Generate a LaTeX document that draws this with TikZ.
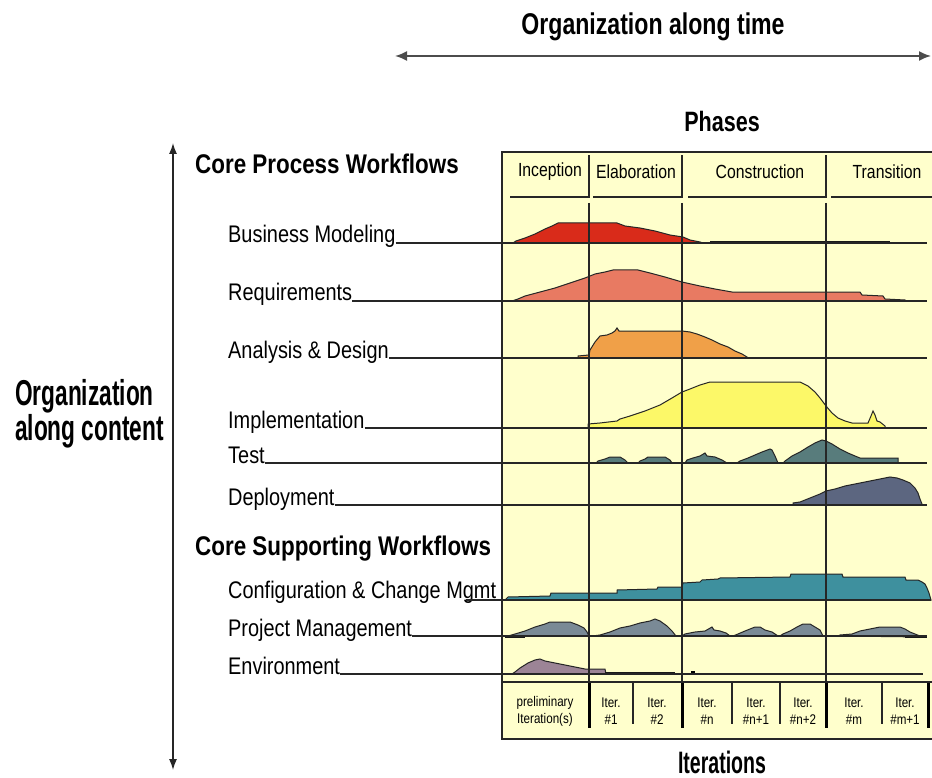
\documentclass[tikz,border=0pt]{standalone}
\usepackage{fontspec}
\setmainfont[FakeStretch=0.83]{Liberation Sans}
\newfontfamily\titlefont[FakeStretch=0.77]{Liberation Sans}
\newfontfamily\tallfont[FakeStretch=0.63]{Liberation Sans}
\usepackage{tikz}
\usetikzlibrary{arrows.meta,positioning,calc}
\definecolor{chartbg}{RGB}{255,255,204}
\definecolor{bmred}{RGB}{217,43,26}
\definecolor{reqsalmon}{RGB}{232,122,98}
\definecolor{adorange}{RGB}{240,160,72}
\definecolor{implyellow}{RGB}{252,248,104}
\definecolor{testslate}{RGB}{88,124,124}
\definecolor{depslate}{RGB}{92,102,128}
\definecolor{cfgteal}{RGB}{62,144,158}
\definecolor{pmgray}{RGB}{122,138,150}
\definecolor{envmauve}{RGB}{156,132,150}
\tikzset{
    flow/.style = {anchor=base west, inner sep=0pt, font=\fontsize{24}{26}\selectfont},
    heading/.style = {anchor=base west, inner sep=0pt, font=\fontsize{27}{30}\selectfont\bfseries},
    bigtitle/.style = {anchor=base, inner sep=0pt, font=\titlefont\fontsize{30}{32}\selectfont\bfseries},
    phase/.style = {inner sep=0pt, font=\fontsize{19}{21}\selectfont},
    iter/.style = {inner sep=0pt, align=center, font=\fontsize{14}{17}\selectfont},
    hump/.style = {draw=black!85, line width=1pt},
    gridline/.style = {line width=1.3pt, black!85},
    baseline/.style = {line width=1.1pt, black!85},
    heavy/.style = {line width=2.6pt, black!90},
    axis/.style = {line width=1.8pt, black!70, {Latex[length=12pt,width=10pt]}-{Latex[length=12pt,width=10pt]}},
}

\begin{document}
\begin{tikzpicture}[x=1pt,y=-1pt]
    \useasboundingbox (0,0) rectangle (932,778);
    % chart area
    \fill[chartbg] (502,152) rectangle (932,739);

    % axes and titles
    \coordinate (timeL) at (395,56);
    \coordinate (timeR) at (931,56);
    \draw[axis] (timeL) -- (timeR);
    \node[bigtitle] (timetitle) at (653,35) {Organization along time};
    \coordinate (contT) at (173,143);
    \coordinate (contB) at (173,770);
    \draw[axis, line width=1.3pt, black!85, {Latex[length=11pt,width=8pt]}-{Latex[length=11pt,width=8pt]}] (contT) -- (contB);
    \node[anchor=base west, inner sep=0pt, font=\tallfont\fontsize{36}{36}\selectfont\bfseries] (orgA) at (15,405) {Organization};
    \node[anchor=base west, inner sep=0pt, font=\tallfont\fontsize{36}{36}\selectfont\bfseries] (orgB) at (15,440) {along content};
    \node[bigtitle, font=\titlefont\fontsize{28}{30}\selectfont\bfseries] (phases) at (722,132) {Phases};
    \node[bigtitle, font=\tallfont\fontsize{31}{33}\selectfont\bfseries] (iterations) at (722,773) {Iterations};

    % phase header
    \node[phase] (incep) at (550,172) {Inception};
    \node[phase] (elab) at (636,172) {Elaboration};
    \node[phase] (constr) at (760,172) {Construction};
    \node[phase] (trans) at (887,172) {Transition};
    \draw[gridline] (510,197) -- (589,197) -- (589,155);
    \draw[gridline] (593,197) -- (682,197) -- (682,155);
    \draw[gridline] (688,197) -- (826,197) -- (826,155);
    \draw[gridline] (831,197) -- (932,197);

    % Core process humps
    \filldraw[hump, fill=bmred] plot coordinates {(513,243) (516,241) (525,238) (535,234) (545,229) (552,226) (558,223) (617,223) (625,226) (640,228) (655,231) (670,235) (683,237) (690,240) (700,242) (703,243)} -- cycle;
    \draw[heavy] (710,242.5) -- (890,242.5);
    \filldraw[hump, fill=reqsalmon] plot coordinates {(512,301) (518,299) (525,296) (540,292) (555,288) (570,283) (585,278) (595,274) (605,272) (613,270) (638,270) (650,273) (665,277) (682,282) (700,286) (715,289) (732,292) (860,292) (862,295) (883,296) (885,299) (905,300) (905,301)} -- cycle;
    \draw[heavy] (905,301) -- (927,301);
    \draw[heavy] (563,358) -- (578,358);
    \filldraw[hump, fill=adorange] plot coordinates {(578,358) (578,356) (589,355) (590,350) (595,342) (600,336) (607,335) (612,333) (615,331) (617,328) (619,331) (682,331) (690,332) (697,334) (705,337) (712,340) (720,344) (728,347) (735,351) (742,354) (747,357) (747,358)} -- cycle;
    \draw[heavy] (747,358) -- (907,358);
    \draw[heavy] (559,428) -- (588,428);
    \filldraw[hump, fill=implyellow] plot coordinates {(588,428) (588,424) (600,423) (617,421) (620,419) (630,416) (645,411) (660,405) (672,398) (682,392) (690,389) (700,385) (710,382) (800,382) (808,386) (815,392) (820,398) (826,406) (832,413) (838,418) (845,421) (852,423) (868,423) (871,416) (873,411) (875,415) (877,421) (880,422) (885,426) (885,428)} -- cycle;
    \draw[heavy] (885,428) -- (910,428);
    \filldraw[hump, fill=testslate] plot coordinates {(596,463) (598,461) (605,459) (610,457) (620,457) (625,460) (628,463)} -- cycle;
    \filldraw[hump, fill=testslate] plot coordinates {(638,463) (640,461) (645,459) (648,457) (665,457) (670,460) (672,463)} -- cycle;
    \filldraw[hump, fill=testslate] plot coordinates {(685,463) (687,460) (693,458) (700,456) (705,453) (707,456) (715,457) (722,460) (727,463)} -- cycle;
    \filldraw[hump, fill=testslate] plot coordinates {(737,463) (740,461) (748,458) (755,455) (762,452) (770,449) (772,450) (775,456) (778,463)} -- cycle;
    \filldraw[hump, fill=testslate] plot coordinates {(783,463) (785,461) (792,456) (800,452) (808,447) (815,443) (822,440) (826,441) (832,444) (840,449) (848,453) (855,456) (860,458) (898,458) (898,463)} -- cycle;
    \draw[heavy] (592,463) -- (600,463);
    \draw[heavy] (898,463) -- (918,463);
    \draw[heavy] (778,505) -- (793,505);
    \filldraw[hump, fill=depslate] plot coordinates {(793,505) (793,503) (800,502) (810,498) (820,494) (826,491) (835,489) (845,486) (855,484) (865,482) (875,480) (885,478) (890,477) (897,478) (903,480) (910,483) (915,488) (918,493) (920,499) (922,504) (922,505)} -- cycle;

    % Core supporting humps
    \filldraw[hump, fill=cfgteal] plot coordinates {(505,600) (508,597) (550,596) (551,593) (617,593) (617,590) (657,589) (658,587) (682,587) (683,583) (700,582) (702,580) (718,579) (720,578) (790,577) (791,574) (842,574) (843,577) (905,577) (906,580) (918,580) (922,582) (925,584) (927,588) (929,593) (931,600)} -- cycle;
    \filldraw[hump, fill=pmgray] plot coordinates {(508,636) (515,634) (525,631) (535,627) (545,624) (550,622) (570,622) (578,625) (584,628) (587,632) (589,636)} -- cycle;
    \filldraw[hump, fill=pmgray] plot coordinates {(592,636) (600,635) (610,632) (620,628) (630,626) (640,623) (650,621) (655,619) (660,621) (667,626) (672,631) (676,636)} -- cycle;
    \filldraw[hump, fill=pmgray] plot coordinates {(682,636) (685,634) (695,632) (705,631) (712,627) (714,630) (720,631) (726,633) (730,636)} -- cycle;
    \filldraw[hump, fill=pmgray] plot coordinates {(733,636) (738,634) (745,631) (750,629) (755,627) (760,627) (765,630) (772,632) (778,636)} -- cycle;
    \filldraw[hump, fill=pmgray] plot coordinates {(780,636) (783,634) (790,631) (797,627) (803,624) (810,624) (815,627) (820,630) (823,636)} -- cycle;
    \filldraw[hump, fill=pmgray] plot coordinates {(838,636) (840,635) (852,634) (860,631) (870,629) (880,627) (900,627) (905,629) (910,632) (915,634) (920,636) (925,637)} -- cycle;
    \draw[heavy] (505,636.5) -- (525,636.5);
    \draw[heavy] (905,637) -- (927,637);
    \filldraw[hump, fill=envmauve] plot coordinates {(512,674) (515,672) (520,668) (528,663) (535,660) (540,659) (545,661) (555,663) (565,665) (575,667) (585,669) (605,669) (606,674)} -- cycle;
    \draw[heavy] (605,673) -- (675,673);
    \fill[black] (691,671) rectangle (695,675);

    % workflow labels
    \node[heading] (coreproc) at (195,174) {Core Process Workflows};
    \node[flow] (bm) at (228,243) {Business Modeling};
    \node[flow] (req) at (228,301) {Requirements};
    \node[flow] (ad) at (228,358) {Analysis \& Design};
    \node[flow] (impl) at (228,428) {Implementation};
    \node[flow] (test) at (228,463) {Test};
    \node[flow] (dep) at (228,505) {Deployment};
    \node[heading] (coresupp) at (195,555) {Core Supporting Workflows};
    \node[flow] (cfg) at (228,598) {Configuration \& Change Mgmt};
    \node[flow] (pm) at (228,636) {Project Management};
    \node[flow] (env) at (228,674) {Environment};
    \coordinate (bmEnd) at (927,243);
    \coordinate (reqEnd) at (927,301);
    \coordinate (adEnd) at (927,358);
    \coordinate (implEnd) at (927,428);
    \coordinate (testEnd) at (927,463);
    \coordinate (depEnd) at (927,505);
    \coordinate (cfgEnd) at (931,600);
    \coordinate (pmEnd) at (927,636);
    \coordinate (envEnd) at (923,674);
    \draw[baseline] (bm.base east) -- (bmEnd);
    \draw[baseline] (req.base east) -- (reqEnd);
    \draw[baseline] (ad.base east) -- (adEnd);
    \draw[baseline] (impl.base east) -- (implEnd);
    \draw[baseline] (test.base east) -- (testEnd);
    \draw[baseline] (dep.base east) -- (depEnd);
    \draw[baseline] ($(cfg.base east)+(-30,2)$) -- (cfgEnd);
    \draw[baseline] (pm.base east) -- (pmEnd);
    \draw[baseline] (env.base east) -- (envEnd);

    % phase boundaries
    \draw[gridline] (589,203) -- (589,682);
    \draw[gridline] (682,203) -- (682,682);
    \draw[gridline] (826,203) -- (826,682);

    % iteration row
    \draw[gridline] (502,682) -- (932,682);
    \draw[line width=3pt] (589,683) -- (589,728);
    \draw[line width=3pt] (682,683) -- (682,728);
    \draw[line width=3pt] (826,683) -- (826,728);
    \draw[line width=3pt] (928,683) -- (928,728);
    \draw[gridline] (633,683) -- (633,724);
    \draw[gridline] (732,683) -- (732,724);
    \draw[gridline] (780,683) -- (780,724);
    \draw[gridline] (882,683) -- (882,724);
    \node[iter] (prelim) at (545,711) {preliminary\\Iteration(s)};
    \node[iter] (it1) at (611,711) {Iter.\\\#1};
    \node[iter] (it2) at (657,711) {Iter.\\\#2};
    \node[iter] (itn) at (707,711) {Iter.\\\#n};
    \node[iter] (itn1) at (756,711) {Iter.\\\#n+1};
    \node[iter] (itn2) at (803,711) {Iter.\\\#n+2};
    \node[iter] (itm) at (854,711) {Iter.\\\#m};
    \node[iter] (itm1) at (905,711) {Iter.\\\#m+1};

    % chart border
    \draw[gridline] (932,152) -- (502,152) -- (502,739) -- (932,739);
\end{tikzpicture}
\end{document}
